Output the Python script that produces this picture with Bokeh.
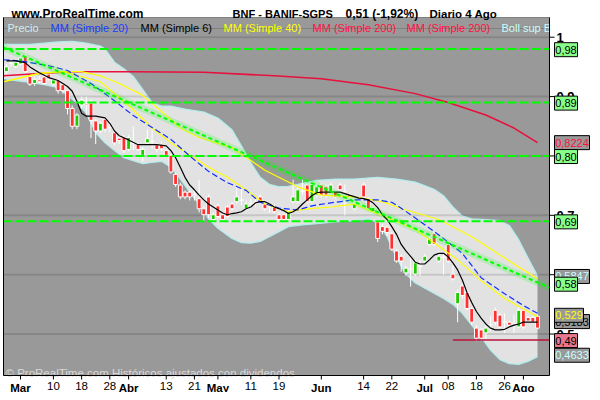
from bokeh.plotting import figure
from bokeh.models import ColumnDataSource, Range1d
from bokeh.core.properties import value
from bokeh.embed import file_html
from bokeh.resources import INLINE

FONT = value("Liberation Sans")

# ---------------- data (trading-day index: 0 = 28 Feb 2011 ... 111 = 4 Aug 2011) -------------
day = list(range(-2, 112))
open_ = [.942, .956, .951, .955, .968, .934, .922, .929, .933, .938,
         .921, .927, .920, .910, .880, .850, .886, .888, .889, .859,
         .842, .862, .850, .839, .830, .831, .811, .822, .819, .801,
         .822, .825, .819, .819, .809, .801, .769, .751, .739, .739,
         .735, .728, .711, .731, .693, .716, .701, .714, .719, .723,
         .725, .711, .720, .722, .731, .719, .716, .714, .701, .701,
         .693, .723, .723, .740, .751, .723, .734, .751, .748, .739,
         .739, .751, .740, .735, .711, .720, .751, .728, .706, .689,
         .681, .680, .669, .640, .631, .603, .610, .601, .615, .623,
         .651, .669, .623, .630, .651, .601, .551, .581, .570, .543,
         .510, .507, .502, .515, .540, .532, .520, .520, .518, .512,
         .540, .528, .528, .530]
high = [.955, .962, .962, .968, .972, .936, .932, .935, .936, .940,
        .930, .930, .922, .912, .885, .872, .900, .900, .895, .862,
        .858, .865, .860, .842, .835, .835, .835, .850, .822, .815,
        .845, .845, .822, .825, .812, .803, .772, .755, .742, .742,
        .745, .760, .715, .735, .705, .720, .705, .718, .722, .748,
        .750, .725, .728, .730, .735, .725, .720, .718, .705, .703,
        .710, .760, .750, .760, .755, .755, .752, .755, .752, .755,
        .742, .755, .752, .738, .722, .726, .755, .730, .716, .692,
        .685, .683, .672, .643, .634, .615, .630, .625, .625, .635,
        .665, .672, .640, .635, .655, .615, .575, .585, .575, .545,
        .515, .510, .515, .530, .545, .535, .535, .522, .532, .545,
        .545, .530, .530, .533]
low = [.938, .950, .948, .952, .938, .918, .918, .922, .920, .927,
       .918, .905, .905, .870, .845, .845, .880, .870, .830, .820,
       .838, .840, .840, .818, .820, .805, .808, .810, .808, .790,
       .820, .812, .806, .808, .798, .770, .748, .727, .727, .725,
       .725, .705, .690, .695, .688, .695, .688, .695, .708, .719,
       .717, .708, .712, .715, .720, .708, .705, .703, .690, .690,
       .690, .720, .720, .735, .720, .720, .730, .730, .730, .735,
       .728, .740, .700, .725, .708, .714, .728, .708, .703, .655,
       .668, .665, .640, .620, .605, .598, .580, .598, .598, .620,
       .648, .648, .620, .600, .620, .590, .520, .560, .540, .515,
       .488, .488, .490, .505, .515, .510, .502, .510, .502, .510,
       .508, .520, .518, .508]
close = [.950, .957, .958, .965, .942, .921, .929, .926, .922, .930,
         .928, .910, .910, .880, .850, .869, .894, .886, .860, .842,
         .855, .845, .848, .822, .826, .809, .831, .821, .811, .811,
         .829, .824, .811, .812, .801, .773, .752, .731, .731, .731,
         .733, .711, .701, .701, .701, .698, .693, .698, .711, .731,
         .726, .719, .722, .720, .723, .711, .715, .706, .693, .693,
         .706, .731, .743, .741, .723, .752, .748, .734, .734, .751,
         .731, .743, .739, .730, .719, .722, .731, .711, .713, .661,
         .673, .671, .643, .623, .623, .611, .609, .620, .614, .631,
         .661, .651, .631, .629, .623, .593, .570, .565, .543, .520,
         .493, .493, .510, .516, .520, .512, .521, .515, .517, .540,
         .512, .522, .520, .510]

# moving averages / bands (day index, price)
mm6_x = [-2, 0, 2, 3, 5, 7, 9, 11, 12, 13, 14, 15, 17, 19, 20, 21, 22, 24, 26, 28,
         30, 32, 33, 34, 35, 36, 37, 38, 39, 40, 41, 42, 43, 44, 45, 46, 47, 48, 49, 50,
         51, 52, 53, 54, 55, 56, 57, 58, 59, 60, 61, 62, 63, 64, 65, 67, 69, 71, 73, 74,
         75, 76, 77, 78, 79, 80, 81, 82, 83, 84, 85, 86, 87, 88, 89, 90, 91, 92, 93, 94,
         95, 96, 97, 98, 99, 100, 101, 102, 103, 104, 105, 106, 107, 108, 109, 110, 111]
mm6_y = [.960, .960, .957, .950, .940, .932, .927, .917, .909, .892, .872, .867, .867, .864, .855, .842, .834, .827, .819, .819,
         .819, .817, .809, .797, .781, .764, .751, .743, .734, .726, .719, .714, .709, .704, .701, .703, .704, .706, .711, .714,
         .721, .723, .723, .719, .714, .711, .708, .703, .706, .711, .719, .726, .733, .738, .739, .739, .739, .734, .729, .728,
         .726, .721, .713, .701, .693, .681, .668, .651, .640, .631, .621, .618, .618, .625, .633, .636, .636, .630, .620, .608,
         .591, .570, .553, .538, .527, .517, .510, .507, .507, .508, .512, .515, .517, .520, .520, .520, .520]
mm20_x = [-2.6, 1, 7, 11, 16, 21, 25, 29, 33, 37, 41, 45, 49, 52, 56, 60, 63, 67, 72, 77, 80, 82, 86, 90, 95, 99, 104, 108, 111]
mm20_y = [.962, .960, .952, .944, .922, .893, .868, .848, .828, .800, .774, .755, .742, .722, .712, .709, .716, .721, .726, .726,
          .722, .712, .690, .667, .636, .595, .568, .548, .535]
mm40_x = [-2.6, 5, 10, 18, 24, 29, 33, 37, 41, 45, 49, 53, 58, 62, 67, 72, 75, 80, 85, 90, 94, 99, 104, 111]
mm40_y = [.925, .939, .942, .925, .885, .847, .822, .802, .781, .764, .743, .719, .706, .711, .714, .719, .709, .693, .676, .648,
          .625, .590, .560, .529]
slow_x = [-2.6, 5, 10, 14, 18, 22, 27, 31, 35, 39, 46, 53, 60, 65, 72, 78, 83, 90, 97, 104, 111]
slow_y = [.925, .939, .942, .942, .935, .922, .902, .875, .847, .831, .814, .776, .748, .734, .731, .723, .709, .693, .664, .628,
          .593]
mm200_x = [-2.6, 5, 12, 25, 40, 55, 65, 75, 85, 92, 100, 106, 111]
mm200_y = [.935, .939, .942, .942, .941, .935, .930, .920, .905, .890, .869, .847, .8224]
bb_up_x = [-2.6, 0, 3, 6, 9, 12, 15, 18, 19, 21, 23, 25, 27, 29, 31, 33, 36, 40, 43, 46, 48, 50, 52, 54, 56, 58, 61, 64, 68,
           72, 77, 81, 85, 89, 91, 93, 95, 97, 100, 103, 105, 107, 109, 111]
bb_up_y = [.988, .988, .988, .990, .992, .993, .990, .985, .980, .958, .947, .934, .912, .890, .884, .884, .879, .874, .864,
           .844, .817, .789, .764, .752, .748, .749, .754, .759, .761, .761, .764, .761, .756, .744, .733, .714, .699, .694,
           .693, .691, .683, .659, .628, .598]
bb_lo_x = [-2.6, 0, 3, 6, 9, 11, 13, 15, 17, 19, 21, 23, 25, 27, 29, 31, 33, 35, 37, 39, 41, 43, 46, 48, 50, 52, 55, 58, 61,
           64, 68, 72, 75, 77, 79, 81, 83, 85, 88, 91, 93, 95, 97, 99, 101, 103, 105, 107, 109, 111]
bb_lo_y = [.930, .927, .924, .920, .915, .902, .889, .872, .839, .822, .809, .797, .792, .787, .789, .791, .781, .761, .739,
           .719, .694, .678, .661, .654, .653, .656, .668, .681, .684, .686, .689, .691, .694, .688, .664, .628, .601, .586,
           .573, .560, .550, .535, .515, .495, .473, .457, .450, .449, .454, .462]
levels = [0.98, 0.89, 0.80, 0.69]
trend_y = [0.983, 0.578]          # trend line value at the left / right edge of the chart
low_line_start = 93
low_line_level = 0.49

tick_days = [1, 8, 14, 20, 24, 32, 38, 43, 50, 56, 65, 74, 80, 87, 92, 98, 104, 108]
tick_labels = ["Mar", "10", "18", "28", "Abr", "13", "21", "May", "11", "19",
               "Jun", "14", "22", "Jul", "08", "18", "26", "Ago"]
months = ["Mar", "Abr", "May", "Jun", "Jul", "Ago"]
price_ticks = [0.5, 0.6, 0.7, 0.8, 0.9, 1.0]
price_tick_labels = ["0,5", "0,6", "0,7", "0,8", "0,9", "1"]

# right-hand value tags: text, position (price), fill, text colour, box width (px)
tags = [
    ("0,98", 0.979, "#88ff88", "black", 23),
    ("0,89", 0.889, "#88ff88", "black", 23),
    ("0,8224", 0.8224, "#999999", "#ff1040", 35),
    ("0,80", 0.799, "#88ff88", "black", 23),
    ("0,69", 0.689, "#88ff88", "black", 23),
    ("0,5847", 0.597, "#999999", "#c8ffff", 35),
    ("0,58", 0.584, "#88ff88", "black", 23),
    ("0,5183", 0.521, "#999999", "black", 35),
    ("0,529", 0.5316, "#999999", "#ffff00", 29),
    ("0,49", 0.489, "#e8788c", "black", 23),
    ("0,4633", 0.4643, "#999999", "#c8ffff", 35),
]
legend_items = [("Precio", 7, "#d0eef4"), ("MM (Simple 20)", 50, "#1a3cff"), ("MM (Simple 6)", 140, "black"),
                ("MM (Simple 40)", 223, "#ffff00"), ("MM (Simple 200)", 312, "#ff1040"),
                ("MM (Simple 200)", 406, "#ff1040"), ("Boll sup B", 501, "#c8ffff")]
header_items = [("www.ProRealTime.com", 11, "12px"), ("BNF - BANIF-SGPS", 232, "11px"),
                ("0,51 (-1,92%)", 345, "12px"), ("Diario  4 Ago", 429, "11.5px")]

# ---------------- geometry ----------------
W, H = 592, 392
X0, X1 = -2.62, 113.55          # chart area in day-index units
Y0, Y1 = 0.4302, 1.0332         # chart area in price units
CL, CR, CT, CB = 3, 549, 17, 375  # chart area in canvas pixels
KX = (CR - CL) / (X1 - X0)
KY = (CB - CT) / (Y1 - Y0)
XS = X0 - CL / KX
YT = Y1 + CT / KY


def cx(px):
    return XS + px / KX


def cy(py):
    return YT - py / KY


p = figure(width=W, height=H, x_range=Range1d(XS, XS + W / KX), y_range=Range1d(YT - H / KY, YT),
           output_backend="svg", toolbar_location=None, x_axis_location=None, y_axis_location=None,
           min_border=0)
p.grid.visible = False
p.outline_line_color = None
p.background_fill_color = "white"
p.border_fill_color = "white"

# chart background
p.quad(left=X0, right=X1, bottom=Y0, top=Y1, fill_color="#999999", line_color=None)

# Bollinger band
p.patch(bb_up_x + bb_lo_x[::-1], bb_up_y + bb_lo_y[::-1], fill_color="#e2e2e2", line_color=None)
p.line(bb_up_x, bb_up_y, line_color="#b0eeee", line_width=1.2)
p.line(bb_lo_x, bb_lo_y, line_color="#b0eeee", line_width=1.2)

# horizontal grid
p.segment(x0=X0, x1=X1, y0=price_ticks, y1=price_ticks, line_color="black", line_alpha=0.12, line_width=2)

# candles
top = [max(a, b) for a, b in zip(open_, close)]
bot = [min(a, b) for a, b in zip(open_, close)]
col = ["#22c800" if c >= o else "#ff3030" for o, c in zip(open_, close)]
src = ColumnDataSource(dict(x=day, h=high, l=low, top=top, bot=bot, col=col))
p.segment(x0="x", y0="l", x1="x", y1="h", source=src, line_color="white", line_width=1)
p.vbar(x="x", top="top", bottom="bot", width=0.82, source=src, fill_color="col", line_color="white", line_width=1)

# moving averages
p.line(mm200_x, mm200_y, line_color="#e8103c", line_width=1.5)
p.line(slow_x, slow_y, line_color="#ffff00", line_width=1.2)
p.line(mm40_x, mm40_y, line_color="#ffff00", line_width=1.2)
p.line(mm20_x, mm20_y, line_color="#1030ff", line_width=1.2, line_dash="6 3")
p.line(mm6_x, mm6_y, line_color="black", line_width=1.2)

# support / resistance lines
p.segment(x0=X0, x1=X1, y0=levels, y1=levels, line_color="#00ff00", line_width=2, line_dash="9 3")
p.line([X0, X1], trend_y, line_color="#00ff00", line_width=7, line_alpha=0.18)
p.line([X0, X1], trend_y, line_color="#00ff00", line_width=2, line_dash="4 3")
p.segment(x0=[low_line_start], x1=[X1], y0=[low_line_level], y1=[low_line_level], line_color="#c0103c", line_width=1.5)

# legend strip
p.quad(left=X0, right=X1, top=Y1, bottom=cy(CT + 11), fill_color="#999999", line_color="#808080", line_width=1)
for txt, px, colr in legend_items:
    p.text(x=[cx(px)], y=[cy(CT + 10)], text=[txt], text_font=FONT, text_font_size="11px",
           text_color=colr, text_baseline="alphabetic")

# watermark
p.text(x=[cx(CL + 2)], y=[cy(CB - 3)], text=["\u00a9 ProRealTime.com  Hist\u00f3ricos ajustados con dividendos"],
       text_font=FONT, text_font_size="11.5px", text_color="#dadada", text_baseline="alphabetic")

# frame: left edge, bottom axis line, right axis line
p.segment(x0=[X0, X0, X1], y0=[Y0, Y0, Y0], x1=[X0, X1, X1], y1=[Y1, Y0, Y1], line_color="black", line_width=1)

# bottom axis ticks and labels
p.segment(x0=tick_days, x1=tick_days, y0=Y0, y1=cy(CB + 4), line_color="black", line_width=1)
day_t = [(d, t) for d, t in zip(tick_days, tick_labels) if t not in months]
mon_t = [(d, t) for d, t in zip(tick_days, tick_labels) if t in months]
p.text(x=[d for d, _ in day_t], y=cy(CB + 6), text=[t for _, t in day_t], text_font=FONT,
       text_font_size="11.5px", text_color="black", text_align="center", text_baseline="top")
p.text(x=[d for d, _ in mon_t], y=cy(CB + 6), text=[t for _, t in mon_t], text_font=FONT,
       text_font_size="11.5px", text_font_style="bold", text_color="black", text_align="center",
       text_baseline="top")

# right axis ticks and labels
p.segment(x0=X1, x1=cx(CR + 5), y0=price_ticks, y1=price_ticks, line_color="black", line_width=1)
p.text(x=cx(CR + 7), y=price_ticks, text=price_tick_labels, text_font=FONT, text_font_size="13px",
       text_font_style="bold", text_color="black", text_baseline="middle")

# value tags
for txt, v, fill, tcol, w in tags:
    p.rect(x=[cx(CR + 5 + w / 2)], y=[v], width=w, height=14, width_units="screen", height_units="screen",
           fill_color=fill, line_color="black", line_width=1)
    p.text(x=[cx(CR + 5 + w / 2)], y=[v], text=[txt], text_font=FONT, text_font_size="11px",
           text_color=tcol, text_align="center", text_baseline="middle")

# header
for txt, px, fs in header_items:
    p.text(x=[cx(px)], y=[cy(13)], text=[txt], text_font=FONT, text_font_size=fs,
           text_font_style="bold", text_color="black", text_baseline="alphabetic")

open("out.html", "w").write(file_html(p, INLINE))
